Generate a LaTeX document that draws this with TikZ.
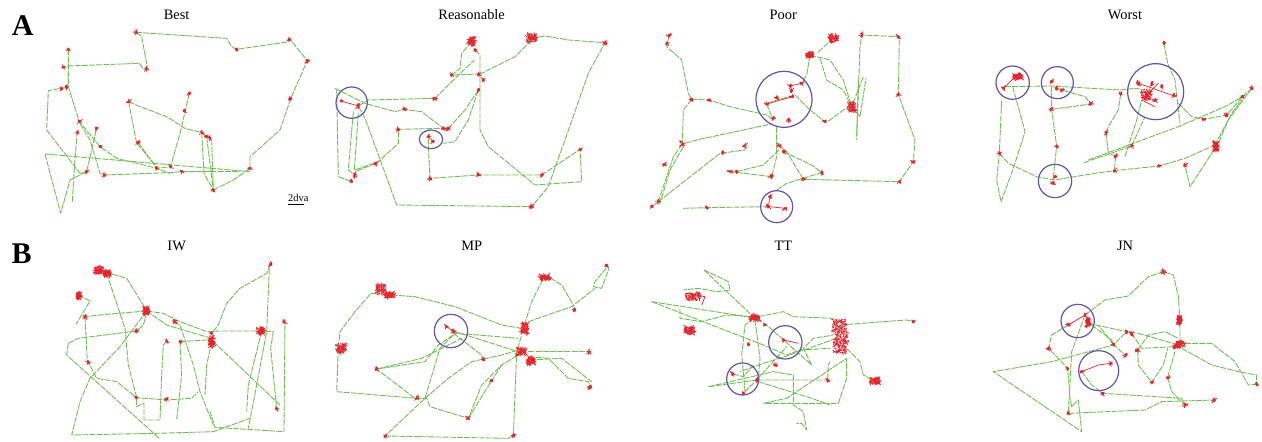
\documentclass[tikz,border=0pt]{standalone}
\usepackage{fontspec}
\setmainfont{Liberation Serif}
\definecolor{pathg}{RGB}{110,192,80}
\definecolor{fixr}{RGB}{236,32,40}
\definecolor{circb}{RGB}{96,84,176}
\tikzset{
  gpath/.style={draw=pathg,line width=0.45pt,dash pattern=on 3pt off 0.6pt,line join=round},
  fixc/.style={draw=fixr,line width=0.35pt},
  roi/.style={draw=circb,line width=0.6pt},
  ttl/.style={font=\fontsize{7.2}{8}\selectfont,inner sep=0pt},
  panlab/.style={font=\fontsize{15}{16}\selectfont\bfseries,inner sep=0pt}
}
\newcommand{\fx}[3][1]{%
  \pgfmathtruncatemacro\nn{6+6*#1*#1}%
  \foreach \k in {1,...,\nn}{\draw[fixc] ({#2+rand*4*#1},{#3+rand*4*#1}) -- ++({rand*6},{rand*6});}
  \fill[fixr] (#2,#3) circle[radius=4.5];}
\newcommand{\blob}[4]{% x y halfwidth halfheight : dense cluster
  \foreach \k in {1,...,110}{\draw[fixc] ({#1+rand*#3},{#2+rand*#4}) -- ++({rand*7},{rand*7});}}
\begin{document}
\begin{tikzpicture}[x=0.5pt,y=-0.5pt]
\pgfmathsetseed{7}
\useasboundingbox (0,0) rectangle (1262,442);
\fill[white] (0,0) rectangle (1262,442);
% ================= Panel A1 Best =================
\begin{scope}[shift={(0,0)},scale=1/3]
\node[panlab] (labA) at (68,78) {A};
\node[ttl] (tBest) at (530,45) {Best};
\draw[gpath] (408,97) -- (680,115) -- (695,140) -- (710,148) -- (868,125) -- (870,118) -- (922,182) -- (872,296) -- (840,390) -- (750,470) -- (750,505) -- (700,540) -- (640,570) -- (635,420) -- (628,410);
\draw[gpath] (408,97) -- (425,110) -- (442,200) -- (430,207) -- (418,190) -- (205,198) -- (190,202);
\draw[gpath] (205,148) -- (205,260) -- (238,365) -- (300,440) -- (350,475) -- (470,505) -- (512,500);
\draw[gpath] (200,262) -- (145,272) -- (140,390) -- (240,520) -- (260,515);
\draw[gpath] (135,462) -- (182,640) -- (210,540) -- (260,515) -- (290,385);
\draw[gpath] (135,462) -- (750,515);
\draw[gpath] (217,605) -- (225,475) -- (232,397);
\draw[gpath] (240,370) -- (270,420) -- (300,520) -- (312,525) -- (505,518) -- (545,515) -- (630,515);
\draw[gpath] (386,305) -- (420,320) -- (500,350) -- (555,385) -- (605,398) -- (620,410) -- (640,570);
\draw[gpath] (568,280) -- (540,400) -- (520,470) -- (512,500);
\draw[gpath] (415,427) -- (470,505) -- (510,520);
\draw[gpath] (386,305) -- (410,430) -- (470,500);
\draw[gpath] (605,398) -- (612,520) -- (640,570);
\draw[gpath] (545,515) -- (720,515);
\fx{408}{97}\fx{710}{148}\fx{868}{118}\fx{922}{182}\fx{872}{296}\fx{750}{505}\fx{640}{570}\fx{620}{410}\fx{605}{398}\fx{630}{415}\fx{568}{280}\fx{553}{333}\fx{512}{500}\fx{386}{305}\fx{470}{505}\fx{545}{515}\fx{440}{207}\fx{190}{202}\fx{205}{148}\fx{200}{262}\fx{185}{265}\fx{238}{365}\fx{232}{397}\fx{290}{385}\fx{300}{440}\fx{260}{515}\fx{312}{525}\fx{415}{427}
\node[font=\fontsize{5.2}{6}\selectfont,inner sep=0pt] (sc) at (895,594) {2dva};
\draw[line width=0.7pt] (865,613) -- (913,613);
\end{scope}
% ================= Panel A2 Reasonable =================
\begin{scope}[shift={(315,0)},scale=1/3]
\node[ttl] (tRea) at (470,45) {Reasonable};
\draw[gpath] (470,125) -- (440,160) -- (435,205) -- (410,225);
\draw[gpath] (480,150) -- (495,165) -- (495,390) -- (520,440) -- (660,555) -- (800,545) -- (795,448) -- (680,525) -- (490,525) -- (345,535) -- (340,440) -- (340,410);
\draw[gpath] (415,225) -- (490,222) -- (505,240);
\draw[gpath] (650,115) -- (690,108) -- (760,120) -- (870,128) -- (820,220) -- (750,420) -- (700,560) -- (650,620) -- (245,615) -- (150,355) -- (130,318);
\draw[gpath] (650,120) -- (600,170) -- (520,210) -- (490,225);
\draw[gpath] (360,295) -- (405,250) -- (478,180);
\draw[gpath] (360,295) -- (160,300) -- (130,318);
\draw[gpath] (490,270) -- (450,330) -- (400,385) -- (385,385) -- (250,388) -- (250,430) -- (190,485) -- (120,510);
\draw[gpath] (490,270) -- (460,360) -- (420,425) -- (385,430);
\draw[gpath] (60,265) -- (130,300) -- (150,310) -- (240,335) -- (268,328) -- (320,335) -- (385,385);
\draw[gpath] (65,270) -- (70,530) -- (110,545);
\draw[gpath] (115,335) -- (100,510) -- (120,525);
\draw[gpath] (130,340) -- (118,510);
\draw[gpath] (183,490) -- (120,515);
\draw[fixc] (130,318) -- (78,303);
\draw[fixc] (340,410) -- (355,425);
\blob{470}{125}{10}{10}\fx{480}{150}\blob{650}{115}{14}{12}\fx{870}{128}\fx{410}{225}\fx{490}{225}\fx{505}{240}\fx{490}{270}\fx{360}{295}\fx{268}{328}\fx[1.3]{130}{318}\fx{78}{303}\fx{250}{388}\fx{385}{385}\fx{400}{385}\fx{340}{410}\fx{355}{425}\fx{183}{490}\fx[1.5]{120}{525}\fx{110}{545}\fx{345}{535}\fx{490}{525}\fx{680}{525}\fx{795}{448}\fx[1.3]{650}{620}
\draw[roi] (110,308) circle[radius=47];
\draw[roi] (348,418) ellipse[x radius=35,y radius=28];
\end{scope}
% ================= Panel A3 Poor =================
\begin{scope}[shift={(630,0)},scale=1/3]
\node[ttl] (tPoor) at (460,45) {Poor};
\draw[gpath] (117,107) -- (110,140) -- (155,180) -- (160,205) -- (175,280) -- (185,298) -- (237,300) -- (300,320) -- (410,345) -- (430,360);
\draw[gpath] (185,298) -- (160,330) -- (157,432) -- (200,420) -- (410,375) -- (425,370);
\draw[gpath] (157,432) -- (130,470) -- (85,605) -- (65,620);
\draw[gpath] (160,440) -- (120,510) -- (90,610);
\draw[gpath] (85,605) -- (270,460) -- (345,450) -- (345,437);
\draw[gpath] (160,625) -- (230,623) -- (415,620);
\draw[gpath] (300,515) -- (425,530) -- (440,470) -- (440,380);
\draw[gpath] (320,515) -- (400,495) -- (447,450);
\draw[gpath] (447,437) -- (470,455) -- (520,538) -- (808,545) -- (850,485) -- (855,420) -- (805,283) -- (808,120) -- (805,110) -- (695,105) -- (690,140) -- (680,410);
\draw[gpath] (460,455) -- (545,495) -- (575,518) -- (470,550) -- (440,570);
\draw[gpath] (540,165) -- (530,225) -- (515,250);
\draw[gpath] (540,165) -- (600,180) -- (640,240) -- (665,320);
\draw[gpath] (610,115) -- (560,160);
\draw[gpath] (570,175) -- (590,240) -- (640,270) -- (665,320) -- (700,230);
\draw[gpath] (685,240) -- (680,420);
\draw[gpath] (665,320) -- (640,330) -- (600,360) -- (585,365) -- (540,330) -- (495,285) -- (440,300) -- (410,312);
\draw[gpath] (665,320) -- (690,350) -- (708,235);
\draw[gpath] (410,312) -- (425,350) -- (430,355);
\draw[fixc] (415,620) -- (420,590); \draw[fixc] (420,620) -- (465,625);
\draw[fixc] (480,258) -- (515,250); \draw[fixc] (410,312) -- (487,290);
\fx{117}{107}\fx{110}{130}\blob{610}{115}{12}{10}\fx[1.4]{695}{105}\fx{805}{110}\blob{540}{165}{10}{6}\fx{185}{298}\fx{237}{300}\fx{515}{250}\fx{480}{258}\fx{485}{272}\fx{410}{312}\fx{440}{292}\fx{487}{290}\fx{430}{355}\fx{475}{360}\blob{665}{322}{10}{14}\fx{585}{365}\fx{805}{283}\fx[1.3]{157}{432}\fx{447}{437}\fx{460}{455}\fx{345}{437}\fx{278}{457}\fx{300}{515}\fx{320}{515}\fx[1.4]{425}{530}\fx{575}{518}\fx{520}{538}\fx{808}{545}\fx{850}{485}\fx{102}{493}\fx{85}{605}\fx{65}{620}\fx{230}{623}\fx{420}{590}\fx{415}{620}\fx{465}{625}
\draw[roi] (462,298) circle[radius=84];
\draw[roi] (440,620) circle[radius=48];
\end{scope}
% ================= Panel A4 Worst =================
\begin{scope}[shift={(945,0)},scale=1/3]
\node[ttl] (tWorst) at (540,45) {Worst};
\draw[gpath] (657,130) -- (668,190) -- (690,240) -- (700,330) -- (705,370);
\draw[gpath] (180,260) -- (320,258) -- (527,270) -- (570,265) -- (600,270);
\draw[gpath] (203,260) -- (240,395) -- (205,505) -- (168,605) -- (155,540) -- (163,460) -- (170,300);
\draw[gpath] (163,460) -- (190,490) -- (275,530) -- (330,540) -- (450,520) -- (508,512) -- (643,498) -- (720,475) -- (810,435);
\draw[gpath] (320,258) -- (320,328) -- (335,438) -- (325,530);
\draw[gpath] (320,328) -- (380,320) -- (437,312) -- (420,290) -- (350,270);
\draw[gpath] (483,398) -- (490,460) -- (512,468) -- (508,512);
\draw[gpath] (527,282) -- (520,330) -- (490,380) -- (483,398);
\draw[gpath] (417,488) -- (560,438) -- (600,350);
\draw[gpath] (430,480) -- (700,380) -- (840,320) -- (893,290);
\draw[gpath] (700,310) -- (740,350) -- (778,358) -- (845,345) -- (893,290) -- (920,265);
\draw[gpath] (920,265) -- (850,360) -- (820,430) -- (735,560) -- (720,495);
\draw[gpath] (810,435) -- (860,340) -- (890,300);
\draw[gpath] (540,470) -- (575,360) -- (590,300);
\draw[fixc] (175,265) -- (213,228); \draw[fixc] (580,250) -- (688,288); \draw[fixc] (600,290) -- (640,250); \draw[fixc] (590,300) -- (630,320);
\fx{657}{130}\blob{218}{230}{14}{8}\fx{175}{265}\fx{320}{245}\fx{335}{265}\fx{350}{270}\fx{437}{312}\fx{318}{328}\fx{527}{282}\fx[1.4]{580}{250}\blob{605}{285}{14}{14}\fx[1.3]{630}{300}\fx{650}{260}\fx{688}{288}\fx{620}{250}\fx{920}{265}\fx{893}{290}\fx[1.5]{845}{345}\fx{778}{358}\fx{483}{398}\fx{560}{438}\blob{812}{440}{6}{14}\fx{512}{468}\fx{643}{498}\fx{720}{495}\fx{508}{512}\fx{335}{438}\fx{163}{460}\fx{330}{530}\fx{325}{550}
\draw[roi] (203,248) circle[radius=50];
\draw[roi] (337,248) circle[radius=48];
\draw[roi] (632,275) circle[radius=84];
\draw[roi] (330,543) circle[radius=50];
\end{scope}
% ================= Panel B1 IW =================
\begin{scope}[shift={(0,225)},scale=1/3]
\node[panlab] (labB) at (65,86) {B};
\node[ttl] (tIW) at (530,62) {IW};
\draw[gpath] (812,118) -- (800,145) -- (720,190) -- (680,235) -- (655,300) -- (635,325);
\draw[gpath] (808,130) -- (800,320) -- (770,480) -- (745,610);
\draw[gpath] (855,280) -- (852,620) -- (645,607) -- (630,560);
\draw[gpath] (295,135) -- (380,160) -- (430,240) -- (440,258);
\draw[gpath] (320,145) -- (375,310) -- (385,420) -- (410,518) -- (410,545) -- (432,535) -- (432,585) -- (480,585) -- (485,450) -- (490,360) -- (500,348);
\draw[gpath] (235,210) -- (270,228) -- (228,298);
\draw[gpath] (255,275) -- (262,408) -- (265,412) -- (290,460) -- (350,470) -- (410,518) -- (500,525) -- (575,520) -- (595,500);
\draw[gpath] (440,258) -- (320,268) -- (255,275);
\draw[gpath] (440,258) -- (490,265) -- (540,290) -- (620,320) -- (660,318) -- (785,318) -- (820,320) -- (812,370) -- (830,552);
\draw[gpath] (440,258) -- (500,300) -- (600,330) -- (635,340);
\draw[gpath] (440,258) -- (360,365) -- (270,460) -- (240,530) -- (215,630) -- (470,625) -- (640,620) -- (750,580);
\draw[gpath] (205,355) -- (200,390) -- (478,640);
\draw[gpath] (205,355) -- (235,340) -- (410,318) -- (430,300) -- (440,265);
\draw[gpath] (540,350) -- (545,450) -- (530,585);
\draw[gpath] (640,350) -- (840,540);
\draw[gpath] (523,290) -- (540,300) -- (580,420) -- (600,500) -- (640,600);
\draw[gpath] (635,350) -- (620,420) -- (615,510);
\draw[gpath] (540,350) -- (620,345);
\draw[gpath] (785,318) -- (745,480) -- (740,560);
\blob{295}{135}{12}{10}\blob{322}{145}{10}{8}\blob{236}{212}{5}{10}\fx{255}{275}\blob{440}{258}{8}{10}\fx{265}{412}\fx{410}{318}\fx{523}{290}\fx{500}{348}\fx{540}{350}\fx{635}{325}\blob{635}{350}{6}{16}\blob{783}{318}{10}{8}\fx{812}{118}\fx{852}{290}\fx{410}{518}\fx{500}{522}\fx{830}{552}
\end{scope}
% ================= Panel B2 MP =================
\begin{scope}[shift={(315,225)},scale=1/3]
\node[ttl] (tMP) at (470,62) {MP};
\draw[gpath] (185,205) -- (168,205) -- (120,260) -- (75,320) -- (70,370) -- (65,500) -- (305,520) -- (330,520);
\draw[gpath] (230,210) -- (300,215) -- (420,245) -- (560,300) -- (620,310);
\draw[gpath] (628,300) -- (650,230) -- (680,170) -- (700,155) -- (740,180) -- (775,240) -- (780,255);
\draw[gpath] (875,122) -- (882,130) -- (860,190) -- (835,185) -- (840,170) -- (875,128);
\draw[gpath] (640,290) -- (770,245) -- (840,190);
\draw[gpath] (395,305) -- (420,325) -- (490,330) -- (610,340);
\draw[gpath] (415,325) -- (500,390) -- (505,403);
\draw[gpath] (415,330) -- (370,360) -- (330,410) -- (185,432) -- (300,520) -- (335,520) -- (345,545) -- (460,580) -- (500,480) -- (560,420) -- (610,390);
\draw[gpath] (415,330) -- (375,370) -- (330,520) -- (210,633);
\draw[gpath] (210,633) -- (580,640) -- (595,632) -- (605,380) -- (620,330);
\draw[gpath] (185,432) -- (320,400) -- (440,340);
\draw[gpath] (330,520) -- (400,460) -- (470,410) -- (560,390) -- (610,375);
\draw[gpath] (640,380) -- (820,380);
\draw[gpath] (640,395) -- (700,400) -- (760,460) -- (820,470) -- (830,487);
\draw[gpath] (645,405) -- (740,400) -- (830,470);
\draw[gpath] (420,320) -- (610,380);
\draw[gpath] (460,580) -- (530,467) -- (560,420);
\blob{198}{192}{14}{14}\blob{225}{210}{14}{8}\blob{78}{370}{14}{12}\fx{185}{432}\fx{395}{305}\fx[1.3]{415}{320}\fx{505}{403}\fx{530}{467}\fx{305}{520}\fx{460}{580}\fx{210}{633}\fx{595}{632}\blob{628}{310}{10}{16}\blob{620}{380}{14}{10}\blob{648}{408}{10}{10}\blob{690}{157}{16}{7}\fx{875}{122}\fx{778}{255}\fx[1.5]{820}{380}\fx[1.5]{825}{487}
\draw[roi] (408,318) circle[radius=50];
\end{scope}
% ================= Panel B3 TT =================
\begin{scope}[shift={(630,225)},scale=1/3]
\node[ttl] (tTT) at (460,62) {TT};
\draw[gpath] (222,135) -- (295,170) -- (300,195) -- (260,200) -- (205,190) -- (160,195);
\draw[gpath] (222,135) -- (375,280) -- (410,300) -- (545,420) -- (520,370) -- (550,340) -- (610,330);
\draw[gpath] (65,230) -- (370,278) -- (460,260) -- (490,275) -- (610,280);
\draw[gpath] (65,230) -- (400,360) -- (470,390) -- (510,375) -- (600,370);
\draw[gpath] (150,250) -- (150,280) -- (215,290) -- (290,270) -- (370,275);
\draw[gpath] (370,280) -- (345,300) -- (335,390) -- (340,440) -- (345,500);
\draw[gpath] (375,285) -- (390,400) -- (385,460) -- (340,505);
\draw[gpath] (236,485) -- (430,440) -- (490,450) -- (490,540) -- (520,560) -- (530,615) -- (515,595) -- (500,595);
\draw[gpath] (236,485) -- (380,465) -- (590,465);
\draw[gpath] (380,465) -- (470,365);
\draw[gpath] (400,535) -- (470,520) -- (650,400) -- (650,460) -- (625,535) -- (400,535);
\draw[gpath] (630,300) -- (760,290) -- (830,285) -- (850,290);
\draw[gpath] (620,340) -- (465,395) -- (400,415) -- (330,440);
\draw[gpath] (650,370) -- (690,410) -- (700,450) -- (735,468);
\draw[gpath] (385,470) -- (545,520) -- (600,540);
\draw[gpath] (593,465) -- (595,420) -- (600,410);
\draw[gpath] (308,447) -- (340,455) -- (370,420);
\draw[fixc] (165,205) -- (225,215) -- (215,240); \draw[fixc] (160,300) -- (195,320) -- (175,330);
\draw[fixc] (460,345) -- (505,355);
\blob{190}{215}{22}{10}\blob{178}{316}{15}{10}\blob{375}{278}{14}{8}\fx{405}{300}\fx{355}{358}\fx{460}{345}\fx{435}{420}\fx{308}{447}\fx{340}{505}\fx{380}{465}\fx{593}{465}\blob{628}{300}{20}{16}\blob{632}{335}{22}{18}\blob{630}{368}{20}{16}\fx{850}{290}\blob{735}{468}{14}{8}
\draw[roi] (466,352) circle[radius=50];
\draw[roi] (338,462) circle[radius=48];
\end{scope}
% ================= Panel B4 JN =================
\begin{scope}[shift={(945,225)},scale=1/3]
\node[ttl] (tJN) at (540,62) {JN};
\draw[gpath] (420,270) -- (480,225) -- (550,213) -- (610,155) -- (655,140) -- (685,150) -- (700,215) -- (705,290) -- (705,355);
\draw[gpath] (720,355) -- (800,355) -- (870,410) -- (910,480) -- (935,478);
\draw[gpath] (710,370) -- (800,420) -- (880,440) -- (935,450) -- (935,480);
\draw[gpath] (430,295) -- (545,320) -- (580,325) -- (700,360);
\draw[gpath] (440,300) -- (500,345) -- (505,358) -- (540,390);
\draw[gpath] (370,300) -- (320,330) -- (310,370) -- (340,400) -- (368,430) -- (375,520) -- (380,545) -- (400,525) -- (410,620) -- (145,440) -- (320,410) -- (505,360) -- (530,335) -- (545,320);
\draw[gpath] (420,270) -- (380,380) -- (370,565) -- (600,555) -- (650,530) -- (808,525);
\draw[gpath] (410,440) -- (440,480) -- (473,505) -- (710,520) -- (720,540);
\draw[gpath] (505,358) -- (460,300);
\draw[gpath] (578,375) -- (580,420) -- (620,472) -- (655,420) -- (668,370);
\draw[gpath] (578,375) -- (610,330) -- (660,320) -- (700,340);
\draw[gpath] (668,457) -- (680,500) -- (720,540);
\draw[gpath] (668,457) -- (690,380);
\draw[gpath] (560,325) -- (590,370) -- (690,365);
\draw[fixc] (370,300) -- (420,270); \draw[fixc] (410,440) -- (460,420) -- (497,415);
\fx[1.5]{655}{140}\fx{420}{270}\blob{428}{292}{6}{12}\fx{370}{300}\fx{545}{320}\fx[1.3]{560}{325}\fx{310}{370}\fx{505}{358}\fx[1.3]{578}{375}\fx{542}{390}\blob{703}{287}{6}{12}\blob{705}{358}{12}{8}\fx[1.3]{690}{365}\fx{668}{457}\fx{620}{472}\fx{368}{430}\fx{473}{505}\fx[1.4]{720}{540}\fx{808}{525}\fx{935}{478}\fx{410}{440}\fx{497}{415}\fx{370}{565}
\draw[roi] (398,288) circle[radius=50];
\draw[roi] (461,437) circle[radius=60];
\end{scope}
\end{tikzpicture}
\end{document}
